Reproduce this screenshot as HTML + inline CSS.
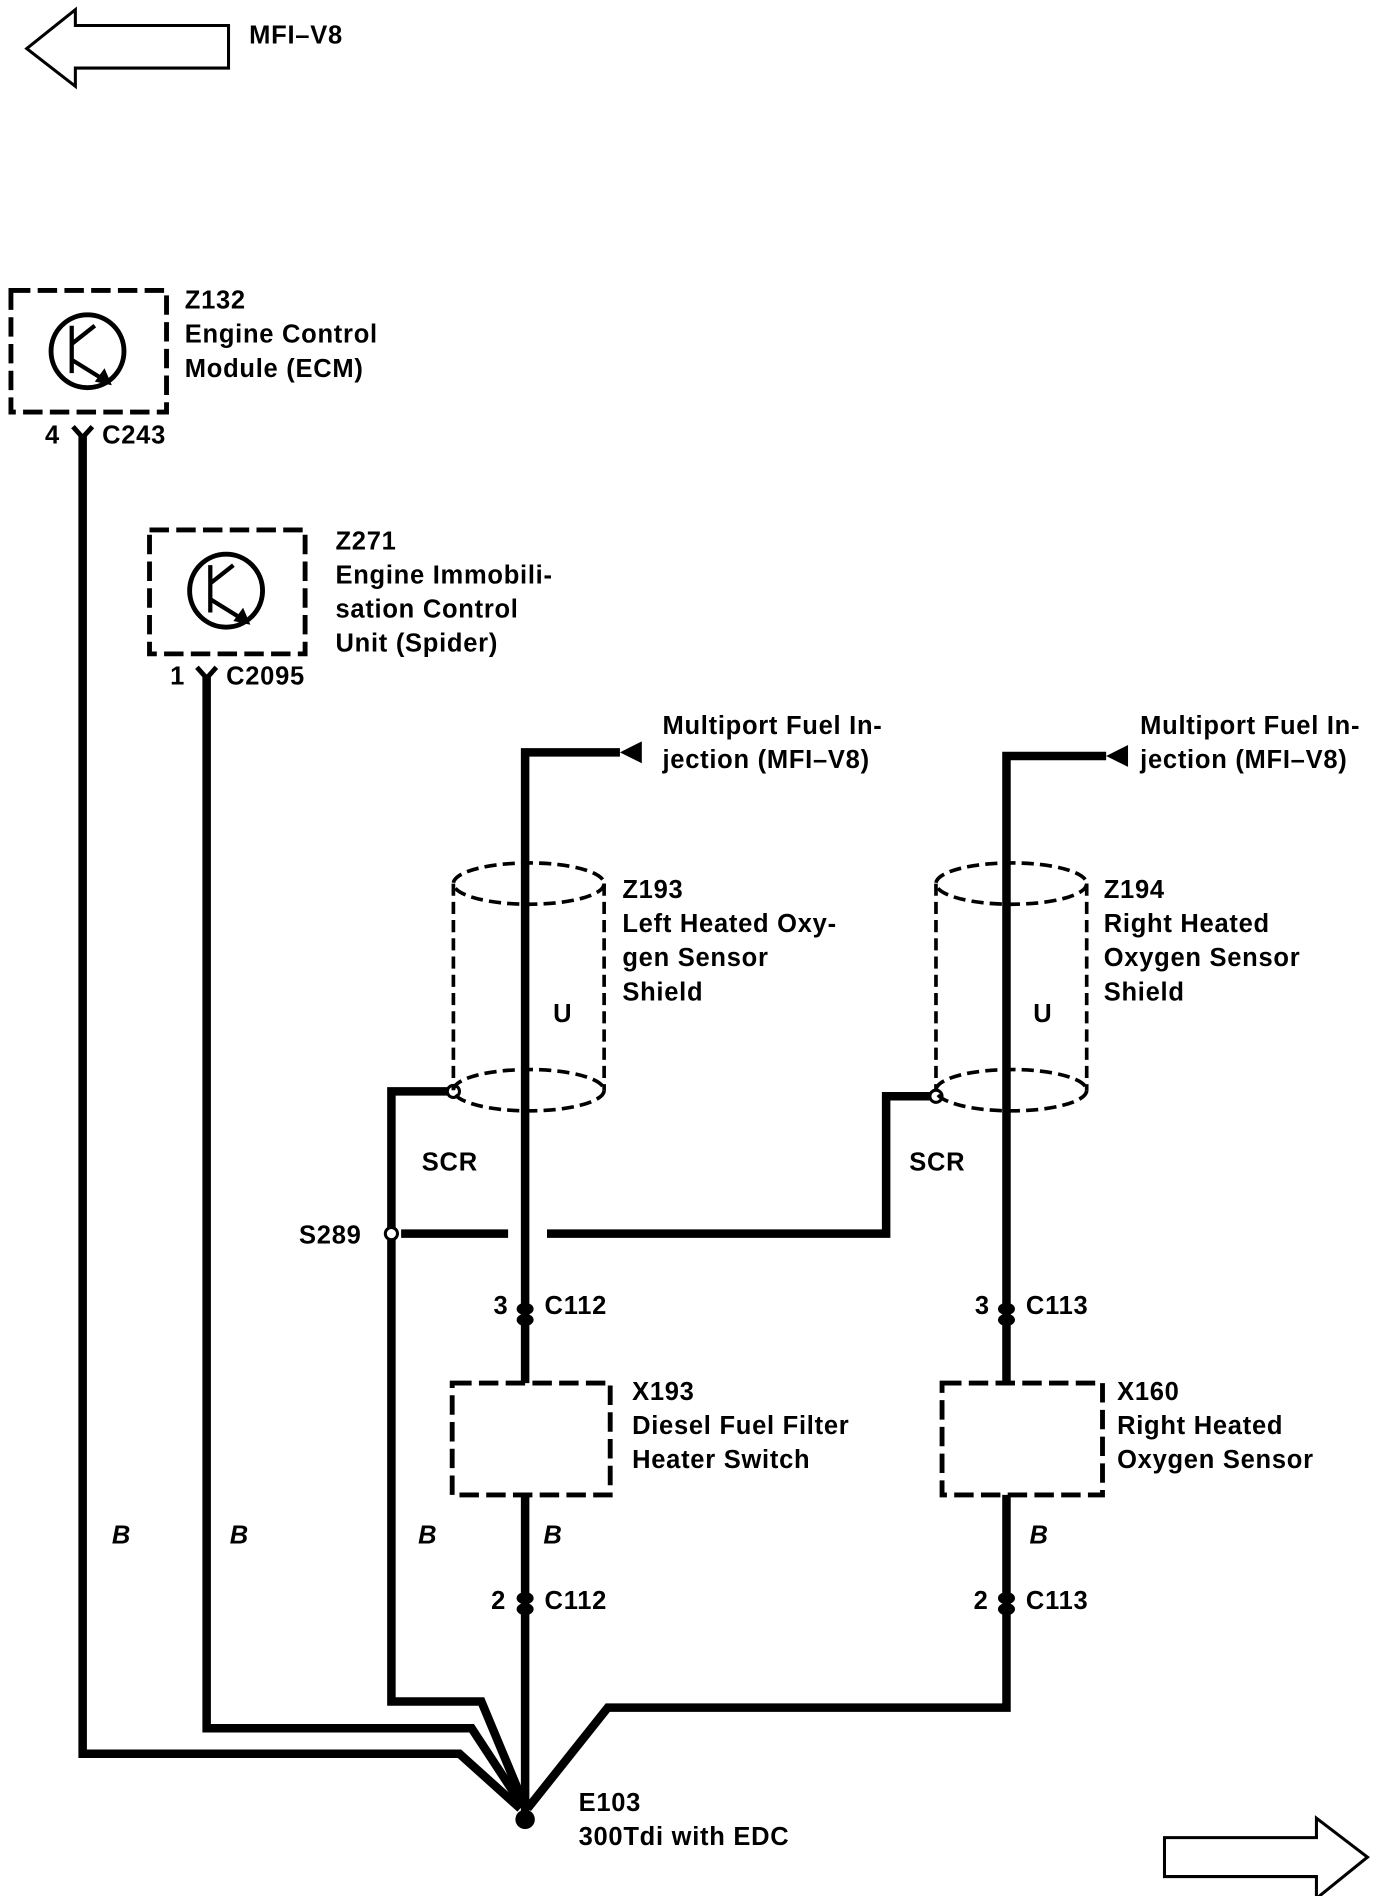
<!DOCTYPE html>
<html><head><meta charset="utf-8"><style>
html,body{margin:0;padding:0;background:#fff;}
svg{display:block;}
text{font-family:"Liberation Sans",Arial,sans-serif;font-weight:bold;font-size:21px;letter-spacing:0.6px;fill:#000;}
.i{font-style:italic;}
</style></head><body>
<svg width="1376" height="1896" viewBox="0 0 1132 1560" preserveAspectRatio="none" xmlns="http://www.w3.org/2000/svg">
<rect width="1132" height="1560" fill="#fff"/>
<polygon points="22,40 62,8 62,21 188,21 188,56 62,56 62,71" fill="none" stroke="#000" stroke-width="2.5"/>
<g transform="translate(0,-3)">
<text x="205" y="39">MFI–V8</text>
</g>
<polygon points="958,1512 1083,1512 1083,1496 1125,1528 1083,1562 1083,1544 958,1544" fill="none" stroke="#000" stroke-width="2.5"/>

<g fill="none" stroke="#000" stroke-width="4" stroke-dasharray="16,6">
<rect x="9" y="239" width="128" height="100"/>
<rect x="123" y="436" width="128" height="102"/>
<rect x="372" y="1138" width="130" height="92"/>
<rect x="775" y="1138" width="132" height="92"/>
</g>
<g fill="none" stroke="#000" stroke-width="4">
<circle cx="72" cy="289" r="30"/>
<circle cx="186" cy="486" r="30"/>
<path d="M59,268 V307 M59,283 L78,268 M59,296 L88,314" stroke-width="3.5"/>
<path d="M173,465 V504 M173,480 L192,465 M173,493 L202,511" stroke-width="3.5"/>
</g>
<polygon points="92,317 78,314 86,303" fill="#000"/>
<polygon points="206,514 192,511 200,500" fill="#000"/>

<g transform="translate(0,-3)">
<text x="152" y="257">Z132</text>
<text x="152" y="285">Engine Control</text>
<text x="152" y="313">Module (ECM)</text>
<text x="37" y="368">4</text><text x="84" y="368">C243</text>
<text x="276" y="455">Z271</text>
<text x="276" y="483">Engine Immobili-</text>
<text x="276" y="511">sation Control</text>
<text x="276" y="539">Unit (Spider)</text>
<text x="140" y="566">1</text><text x="186" y="566">C2095</text>
</g>

<path d="M60,351 L68,360 L76,351" fill="none" stroke="#000" stroke-width="4"/>
<path d="M162,549 L170,558 L178,549" fill="none" stroke="#000" stroke-width="4"/>

<g fill="none" stroke="#000" stroke-width="7" stroke-linejoin="miter">
<path d="M68,358 V1443 H378 L428,1488"/>
<path d="M170,556 V1422 H388 L430,1486"/>
<path d="M373,898 H322 V1400 H396 L431,1484"/>
<path d="M432,1230 V1490"/>
<path d="M828,1230 V1405 H500 L434,1488"/>
<path d="M510,619 H432 V1138"/>
<path d="M910,622 H828 V1138"/>
<path d="M330,1015 H418 M450,1015 H729 V902 H770"/>
</g>
<polygon points="510,619 528,610 528,628" fill="#000"/>
<polygon points="910,622 928,613 928,631" fill="#000"/>
<circle cx="373" cy="898" r="5" fill="#fff" stroke="#000" stroke-width="2.5"/>
<circle cx="770" cy="902" r="5" fill="#fff" stroke="#000" stroke-width="2.5"/>
<circle cx="322" cy="1015" r="5" fill="#fff" stroke="#000" stroke-width="2.5"/>

<g fill="none" stroke="#000" stroke-width="3" stroke-dasharray="10,5">
<ellipse cx="435" cy="727" rx="62" ry="17"/>
<ellipse cx="435" cy="897" rx="62" ry="17"/>
<path d="M373,727 V897 M497,727 V897"/>
<ellipse cx="832" cy="727" rx="62" ry="17"/>
<ellipse cx="832" cy="897" rx="62" ry="17"/>
<path d="M770,727 V897 M894,727 V897"/>
</g>

<g transform="translate(0,-3)">
<text x="545" y="607">Multiport Fuel In-</text>
<text x="545" y="635">jection (MFI–V8)</text>
<text x="938" y="607">Multiport Fuel In-</text>
<text x="938" y="635">jection (MFI–V8)</text>
<text x="455" y="844">U</text>
<text x="850" y="844">U</text>
<text x="512" y="742">Z193</text>
<text x="512" y="770">Left Heated Oxy-</text>
<text x="512" y="798">gen Sensor</text>
<text x="512" y="826">Shield</text>
<text x="908" y="742">Z194</text>
<text x="908" y="770">Right Heated</text>
<text x="908" y="798">Oxygen Sensor</text>
<text x="908" y="826">Shield</text>
<text x="347" y="966">SCR</text>
<text x="748" y="966">SCR</text>
<text x="246" y="1026">S289</text>
<text x="406" y="1084">3</text><text x="448" y="1084">C112</text>
<text x="802" y="1084">3</text><text x="844" y="1084">C113</text>
<text x="404" y="1327">2</text><text x="448" y="1327">C112</text>
<text x="801" y="1327">2</text><text x="844" y="1327">C113</text>
<text x="520" y="1155">X193</text>
<text x="520" y="1183">Diesel Fuel Filter</text>
<text x="520" y="1211">Heater Switch</text>
<text x="919" y="1155">X160</text>
<text x="919" y="1183">Right Heated</text>
<text x="919" y="1211">Oxygen Sensor</text>
<text class="i" x="92" y="1273">B</text>
<text class="i" x="189" y="1273">B</text>
<text class="i" x="344" y="1273">B</text>
<text class="i" x="447" y="1273">B</text>
<text class="i" x="847" y="1273">B</text>
<text x="476" y="1493">E103</text>
<text x="476" y="1521">300Tdi with EDC</text>
</g>

<g fill="#000">
<ellipse cx="432" cy="1077" rx="7" ry="5"/><ellipse cx="432" cy="1086" rx="7" ry="5"/>
<ellipse cx="828" cy="1077" rx="7" ry="5"/><ellipse cx="828" cy="1086" rx="7" ry="5"/>
<ellipse cx="432" cy="1315" rx="7" ry="5"/><ellipse cx="432" cy="1324" rx="7" ry="5"/>
<ellipse cx="828" cy="1315" rx="7" ry="5"/><ellipse cx="828" cy="1324" rx="7" ry="5"/>
</g>
<circle cx="432" cy="1497" r="8" fill="#000"/>
</svg>
</body></html>
